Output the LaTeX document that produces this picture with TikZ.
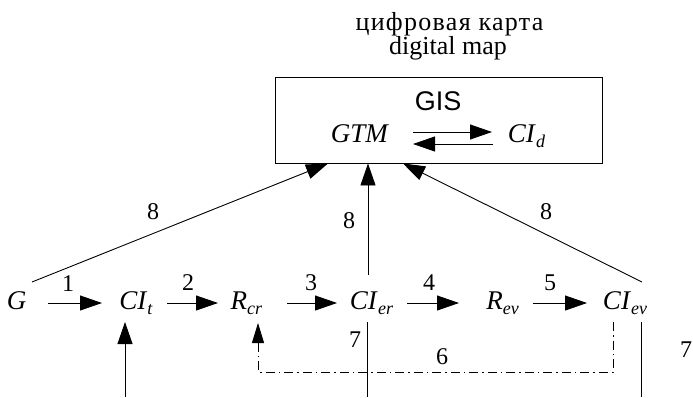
\documentclass[tikz,border=0pt]{standalone}
\usepackage{fontspec}
\setmainfont{Liberation Serif}
\newfontfamily\gisfont{Liberation Sans}
\newfontfamily\cyrfont[LetterSpace=5]{Liberation Serif}
\usetikzlibrary{arrows.meta}
\newcommand{\vsub}[2]{\textit{#1}\raisebox{-5pt}{\fontsize{18}{20}\selectfont\textit{#2}}}

\begin{document}
\begin{tikzpicture}[x=1pt,y=-1pt,
  var/.style={inner sep=0pt, text height=19pt, text depth=6pt, font=\fontsize{27}{30}\selectfont},
  lbl/.style={inner sep=0pt, font=\fontsize{24}{26}\selectfont},
  ttl/.style={inner sep=0pt, anchor=base, font=\fontsize{26}{28}\selectfont},
  arr/.style={line width=0.9pt, -{Triangle[length=22pt,width=15pt]}},
  ln/.style={line width=0.9pt},
  dd/.style={line width=0.9pt, dash pattern=on 9pt off 4pt on 1.5pt off 4pt}
]
\path[use as bounding box] (0,0) rectangle (693,397);

% title
\node[ttl] (t1) at (449.5,30) {\cyrfont цифровая карта};
\node[ttl] (t2) at (448,54) {digital map};

% GIS box
\node[draw, ln, minimum width=327pt, minimum height=86pt, inner sep=0pt] (box) at (438.5,120) {};
\node[inner sep=0pt, font=\gisfont\fontsize{27}{29}\selectfont] (gis) at (438,101) {GIS};
\node[var] (GTM) at (360,136) {\textit{GTM}};
\node[var] (CId) at (526.5,136) {\vsub{CI}{d}};
\draw[arr, shorten <=53pt, shorten >=34.5pt] ([yshift=4pt]GTM.center) -- ([yshift=4pt]CId.center);
\draw[arr, shorten <=33.5pt, shorten >=53pt] ([yshift=-8pt]CId.center) -- ([yshift=-8pt]GTM.center);

% main row
\node[var] (G) at (16.5,303) {\textit{G}};
\node[var] (CIt) at (136,303) {\vsub{CI}{t}};
\node[var] (Rcr) at (246.5,303) {\vsub{R}{cr}};
\node[var] (CIer) at (371.5,303) {\vsub{CI}{er}};
\node[var] (Rev) at (502.5,303) {\vsub{R}{ev}};
\node[var] (CIev) at (625,303) {\vsub{CI}{ev}};

\draw[arr, shorten <=31.5pt, shorten >=34pt] (G.center) -- (CIt.center);
\draw[arr, shorten <=31pt, shorten >=28.5pt] (CIt.center) -- (Rcr.center);
\draw[arr, shorten <=40.5pt, shorten >=34.5pt] (Rcr.center) -- (CIer.center);
\draw[arr, shorten <=35.5pt, shorten >=43.5pt] (CIer.center) -- (Rev.center);
\draw[arr, shorten <=30.5pt, shorten >=38pt] (Rev.center) -- (CIev.center);

\node[lbl] (l1) at (68,284) {1};
\node[lbl] (l2) at (188,283) {2};
\node[lbl] (l3) at (311,283) {3};
\node[lbl] (l4) at (429,283) {4};
\node[lbl] (l5) at (550,283) {5};

% arrows 8 to GIS
\draw[arr] ([xshift=15.5pt,yshift=21pt]G.center) -- ([xshift=-110.5pt]box.south);
\draw[arr] ([xshift=-3.5pt,yshift=28pt]CIer.center) -- ([xshift=-70.5pt]box.south);
\draw[arr] ([xshift=17pt,yshift=21pt]CIev.center) -- ([xshift=-35.5pt]box.south);
\node[lbl] (l8a) at (153,212) {8};
\node[lbl] (l8b) at (349,221) {8};
\node[lbl] (l8c) at (546,212) {8};

% input into CI_t
\coordinate (inp) at (125,397);
\draw[arr] (inp) -- ([xshift=-11pt,yshift=-19pt]CIt.center);

% outputs 7
\draw[ln] ([xshift=-4.5pt,yshift=-19pt]CIer.center) -- ++(0,75);
\draw[ln] ([xshift=16pt,yshift=-19pt]CIev.center) -- ++(0,75);
\node[lbl] (l7a) at (355,340) {7};
\node[lbl] (l7b) at (686,350) {7};

% feedback 6
\draw[dd, -{Triangle[length=20pt,width=12pt]}] ([xshift=-12pt,yshift=-19pt]CIev.center) -- ++(0,50) -| ([xshift=11.5pt,yshift=-20pt]Rcr.center);
\node[lbl] (l6) at (442,357) {6};
\end{tikzpicture}
\end{document}
